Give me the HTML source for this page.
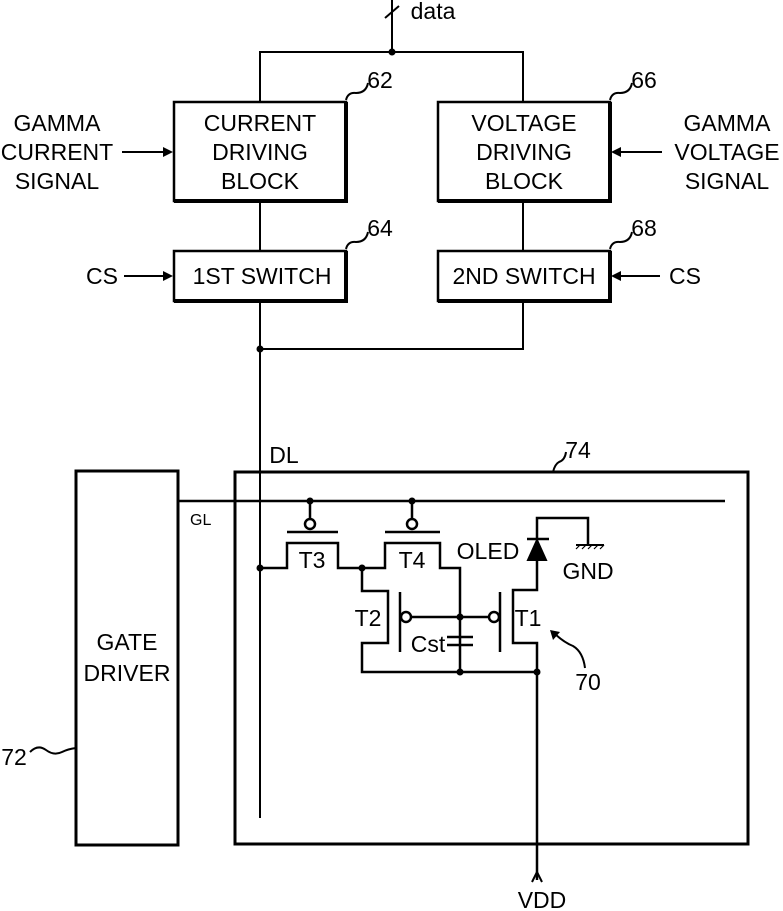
<!DOCTYPE html>
<html><head><style>html,body{margin:0;padding:0;background:#fff}svg{display:block}text{font-family:"Liberation Sans",sans-serif;fill:#000}</style></head>
<body>
<svg width="783" height="911" viewBox="0 0 783 911" xmlns="http://www.w3.org/2000/svg">
<g fill="none" stroke="#000" stroke-width="2">
<line x1="392" y1="0" x2="392" y2="52"/>
<line x1="385" y1="18" x2="399" y2="6"/>
<polyline points="260,101 260,52 523,52 523,101"/>
<g stroke-width="2.5">
<rect x="174" y="102" width="172" height="99"/>
<rect x="438" y="102" width="172" height="99"/>
<rect x="174" y="251" width="172" height="50"/>
<rect x="438" y="251" width="172" height="50"/>
</g>
<g stroke-width="4">
<polyline points="346,102 346,201 174,201"/>
<polyline points="610,102 610,201 438,201"/>
<polyline points="346,251 346,301 174,301"/>
<polyline points="610,251 610,301 438,301"/>
</g>
<line x1="260" y1="201" x2="260" y2="251"/>
<line x1="523" y1="201" x2="523" y2="251"/>
<polyline points="260,301 260,818"/>
<polyline points="523,301 523,349 260,349"/>
<path d="M346,100 q2,-8 10,-7 q10,0 12,-10"/>
<path d="M610,100 q2,-8 10,-7 q10,0 12,-10"/>
<path d="M346,249 q2,-8 10,-7 q10,0 12,-10"/>
<path d="M610,249 q2,-8 10,-7 q10,0 12,-10"/>
<line x1="122" y1="152" x2="166" y2="152"/>
<line x1="662" y1="152" x2="618" y2="152"/>
<line x1="124" y1="276" x2="166" y2="276"/>
<line x1="660" y1="276" x2="618" y2="276"/>
<rect x="76" y="471" width="102" height="374" stroke-width="3"/>
<rect x="235" y="472" width="513" height="372" stroke-width="3"/>
<line x1="178" y1="501" x2="725" y2="501" stroke-width="2.5"/>
<path d="M30,752 q8,-8 16,-2 q8,6 16,2 q6,-3 14,-4"/>
<path d="M553,472 q2,-8 6,-10 q6,-2 7,-10"/>
<g stroke-width="2.5">
<line x1="310" y1="501" x2="310" y2="519"/>
<circle cx="310" cy="524" r="5" fill="#fff"/>
<line x1="287" y1="532" x2="338" y2="532"/>
<polyline points="260,568 287,568 287,543 338,543 338,568 385,568 385,543 440,543 440,568 460,568 460,672"/>
<line x1="412" y1="501" x2="412" y2="519"/>
<circle cx="412" cy="524" r="5" fill="#fff"/>
<line x1="385" y1="532" x2="440" y2="532"/>
<polyline points="362,568 362,591 388,591 388,643 362,643 362,672 537,672"/>
<line x1="400" y1="592" x2="400" y2="652"/>
<circle cx="406" cy="617" r="5" fill="#fff"/>
<line x1="411" y1="617" x2="489" y2="617"/>
<circle cx="494" cy="617" r="5" fill="#fff"/>
<line x1="500" y1="592" x2="500" y2="652"/>
<polyline points="537,560 537,590 513,590 513,643 537,643 537,880"/>
<line x1="447" y1="637" x2="473" y2="637"/>
<line x1="447" y1="645" x2="473" y2="645"/>
<polyline points="537,540 537,518 588,518 588,545"/>
<line x1="527" y1="539" x2="549" y2="539"/>
</g>
<polygon points="528,560 546,560 537,540" fill="#000"/>
<line x1="576" y1="545" x2="604" y2="545"/>
<path d="M576,549 l4,-4 M582,549 l4,-4 M588,549 l4,-4 M594,549 l4,-4 M600,549 l4,-4" stroke-width="1.2"/>
<polyline points="532,882 537,872 542,882"/>
<path d="M585,668 q-2,-16 -12,-22 q-10,-4 -20,-14"/>
</g>
<g fill="#000">
<polygon points="173,152 163,147 163,157"/>
<polygon points="611,152 621,147 621,157"/>
<polygon points="173,276 163,271 163,281"/>
<polygon points="611,276 621,271 621,281"/>
<polygon points="550,630 560,632 553,640"/>
<circle cx="392" cy="52" r="3.5"/><circle cx="260" cy="349" r="3.5"/>
<circle cx="310" cy="501" r="3.5"/><circle cx="412" cy="501" r="3.5"/>
<circle cx="260" cy="568" r="3.5"/><circle cx="362" cy="568" r="3.5"/>
<circle cx="460" cy="617" r="3.5"/><circle cx="460" cy="672" r="3.5"/><circle cx="537" cy="672" r="3.5"/>
</g>
<g font-size="23" text-anchor="middle">
<text x="260" y="131">CURRENT</text><text x="260" y="160">DRIVING</text><text x="260" y="189">BLOCK</text>
<text x="524" y="131">VOLTAGE</text><text x="524" y="160">DRIVING</text><text x="524" y="189">BLOCK</text>
<text x="262" y="284">1ST SWITCH</text><text x="524" y="284">2ND SWITCH</text>
<text x="57" y="131">GAMMA</text><text x="57" y="160">CURRENT</text><text x="57" y="189">SIGNAL</text>
<text x="727" y="131">GAMMA</text><text x="727" y="160">VOLTAGE</text><text x="727" y="189">SIGNAL</text>
<text x="102" y="284">CS</text><text x="685" y="284">CS</text>
<text x="127" y="650">GATE</text><text x="127" y="681">DRIVER</text>
<text x="380" y="88">62</text><text x="644" y="88">66</text>
<text x="380" y="236">64</text><text x="644" y="236">68</text>
<text x="578" y="458">74</text><text x="588" y="690">70</text>
<text x="14" y="765">72</text>
<text x="284" y="463">DL</text>
<text x="312" y="568">T3</text><text x="412" y="568">T4</text>
<text x="368" y="626">T2</text><text x="528" y="626">T1</text>
<text x="428" y="652">Cst</text>
<text x="488" y="559">OLED</text><text x="588" y="579">GND</text>
<text x="542" y="908">VDD</text>
<text x="433" y="19">data</text>
</g>
<text x="190" y="525" font-size="16">GL</text>
</svg>
</body></html>
